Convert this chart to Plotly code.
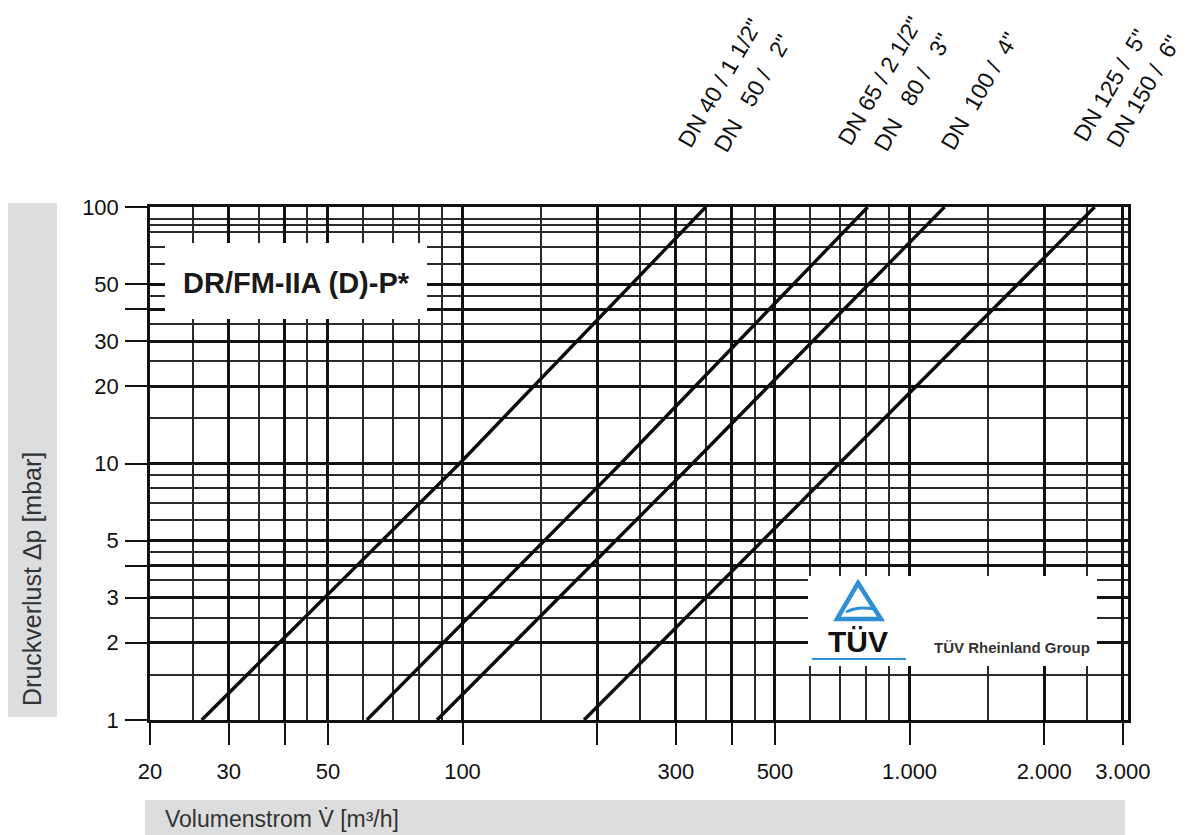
import numpy as np
import plotly.graph_objects as go

# ---------------- data ----------------
dp_points = [1, 10, 100]                      # mbar
flow_dn40_50 = [26.1, 98.5, 350]              # m3/h
flow_dn65_80 = [61.1, 226, 806]
flow_dn100 = [87.7, 327, 1197]
flow_dn125_150 = [187, 697, 2594]
series_flows = [flow_dn40_50, flow_dn65_80, flow_dn100, flow_dn125_150]

# labels above each curve (one or two per curve)
label_lines = [
    ["DN 40 / 1 1/2\"", "DN\u00a0\u00a0\u00a050 /\u00a0\u00a0\u00a02\""],
    ["DN 65 / 2 1/2\"", "DN\u00a0\u00a0\u00a080 /\u00a0\u00a0\u00a03\""],
    ["DN\u00a0\u00a0100 /\u00a0\u00a04\""],
    ["DN 125 /\u00a0\u00a05\"", "DN 150 /\u00a0\u00a06\""],
]

x_tickvals = [20, 30, 40, 50, 100, 200, 300, 400, 500, 1000, 2000, 3000]
x_ticktext = ["20", "30", "", "50", "100", "", "300", "", "500", "1.000", "2.000", "3.000"]
x_minor = [25, 35, 45, 60, 70, 80, 90, 150, 250, 350, 450, 600, 700, 800, 900, 1500, 2500]
y_tickvals = [1, 2, 3, 4, 5, 10, 20, 30, 40, 50, 100]
y_ticktext = ["1", "2", "3", "", "5", "10", "20", "30", "", "50", "100"]
y_minor = [1.5, 2.5, 3.5, 4.5, 6, 7, 8, 9, 15, 25, 35, 45, 60, 70, 80, 85, 90]

title_text = "DR/FM-IIA (D)-P*"
x_title = "Volumenstrom V\u0307 [m\u00b3/h]"
y_title = "Druckverlust \u0394p [mbar]"

# ---------------- layout geometry (reference pixel coords) ----------------
OFF = 8                      # page body margin
W, H = 1189 - OFF, 835 - OFF
L, R, T, B = 150, 1128, 207, 720
FONT = "Liberation Sans, Arial, Helvetica, sans-serif"


def px(xp):
    return (xp - L) / (R - L)


def py(yp):
    return (B - yp) / (B - T)


fig = go.Figure()
for fl in series_flows:
    fig.add_trace(go.Scatter(x=fl, y=dp_points, mode="lines",
                             line=dict(color="#0a0a0a", width=3.4),
                             showlegend=False, hoverinfo="skip"))

shapes = []
annotations = []

# axis title boxes
shapes.append(dict(type="rect", xref="paper", yref="paper", x0=px(6), x1=px(57),
                   y0=py(717), y1=py(203), fillcolor="#dcdddf", line=dict(width=0), layer="above"))
shapes.append(dict(type="rect", xref="paper", yref="paper", x0=px(145), x1=px(1125),
                   y0=py(845), y1=py(800), fillcolor="#dcdddf", line=dict(width=0), layer="above"))
annotations.append(dict(text=y_title, xref="paper", yref="paper", x=px(32), y=py(579),
                        textangle=-90, showarrow=False, xanchor="center", yanchor="middle",
                        font=dict(family=FONT, size=25, color="#333")))
annotations.append(dict(text=x_title, xref="paper", yref="paper", x=px(163), y=py(819),
                        showarrow=False, xanchor="left", yanchor="middle",
                        font=dict(family=FONT, size=23, color="#333")))

# title box
shapes.append(dict(type="rect", xref="paper", yref="paper", x0=px(165), x1=px(427),
                   y0=py(319), y1=py(243), fillcolor="white", line=dict(width=0), layer="above"))
annotations.append(dict(text="<b>" + title_text + "</b>", xref="paper", yref="paper",
                        x=px(296), y=py(283), showarrow=False, xanchor="center", yanchor="middle",
                        font=dict(family=FONT, size=29, color="#1a1a1a")))

# TUV box and logo
shapes.append(dict(type="rect", xref="paper", yref="paper", x0=px(808), x1=px(1097),
                   y0=py(666), y1=py(576), fillcolor="white", line=dict(width=0), layer="above"))
blue = "#2f8fd4"


def ppath(points, close=True):
    s = "M " + " L ".join(f"{px(a):.5f},{py(b):.5f}" for a, b in points)
    return s + (" Z" if close else "")


shapes.append(dict(type="path", xref="paper", yref="paper",
                   path=ppath([(858, 583), (881, 619), (837, 619)]),
                   line=dict(color=blue, width=4.5), fillcolor="rgba(0,0,0,0)", layer="above"))
shapes.append(dict(type="path", xref="paper", yref="paper",
                   path=(f"M {px(846):.5f},{py(612):.5f} Q {px(858):.5f},{py(606):.5f} "
                         f"{px(874):.5f},{py(609):.5f}"),
                   line=dict(color=blue, width=3), layer="above"))
shapes.append(dict(type="line", xref="paper", yref="paper", x0=px(812), x1=px(906),
                   y0=py(659), y1=py(659), line=dict(color=blue, width=2), layer="above"))
annotations.append(dict(text="<b>T\u00dcV</b>", xref="paper", yref="paper", x=px(858), y=py(641),
                        showarrow=False, xanchor="center", yanchor="middle",
                        font=dict(family=FONT, size=30, color="#111")))
annotations.append(dict(text="<b>T\u00dcV Rheinland Group</b>", xref="paper", yref="paper",
                        x=px(1012), y=py(647), showarrow=False, xanchor="center", yanchor="middle",
                        font=dict(family=FONT, size=15, color="#333")))

# markers and DN labels above the curves, tied to the flow at 100 mbar
label_offsets = [[14, 47], [12, 45], [35], [16, 49]]
label_y = [[83, 93], [81, 92], [91], [85, 91]]
for fl, labs, offs, ys in zip(series_flows, label_lines, label_offsets, label_y):
    xq = np.log10(fl[-1])
    shapes.append(dict(type="line", xref="x", yref="paper", x0=xq, x1=xq,
                       y0=py(188), y1=py(165), line=dict(color="#111", width=2), layer="above"))
    for lab, dx, yy in zip(labs, offs, ys):
        annotations.append(dict(text=lab, xref="x", yref="paper", x=xq, xshift=dx, y=py(yy),
                                textangle=-60, showarrow=False, xanchor="center", yanchor="middle",
                                font=dict(family=FONT, size=23, color="#111")))

axis_common = dict(type="log", showline=True, linecolor="#111", linewidth=2.5, mirror=True,
                   ticks="outside", ticklen=22, tickwidth=2, tickcolor="#111",
                   showgrid=True, gridcolor="#111", gridwidth=2.5, zeroline=False,
                   tickfont=dict(family=FONT, size=22, color="#111"), tickmode="array")

fig.update_layout(
    width=W, height=H,
    margin=dict(l=L - OFF, r=W - (R - OFF), t=T - OFF, b=H - (B - OFF), pad=0),
    paper_bgcolor="white", plot_bgcolor="white",
    xaxis=dict(axis_common, range=[np.log10(20), np.log10(3080)],
               tickvals=x_tickvals, ticktext=x_ticktext, ticklabelstandoff=8,
               minor=dict(tickmode="array", tickvals=x_minor, showgrid=True,
                          gridcolor="#2a2a2a", gridwidth=1.5, ticks="")),
    yaxis=dict(axis_common, range=[0, 2],
               tickvals=y_tickvals, ticktext=y_ticktext, ticklabelstandoff=2,
               minor=dict(tickmode="array", tickvals=y_minor, showgrid=True,
                          gridcolor="#2a2a2a", gridwidth=1.5, ticks="")),
    shapes=shapes, annotations=annotations,
    showlegend=False,
)

fig.write_html("out.html")
